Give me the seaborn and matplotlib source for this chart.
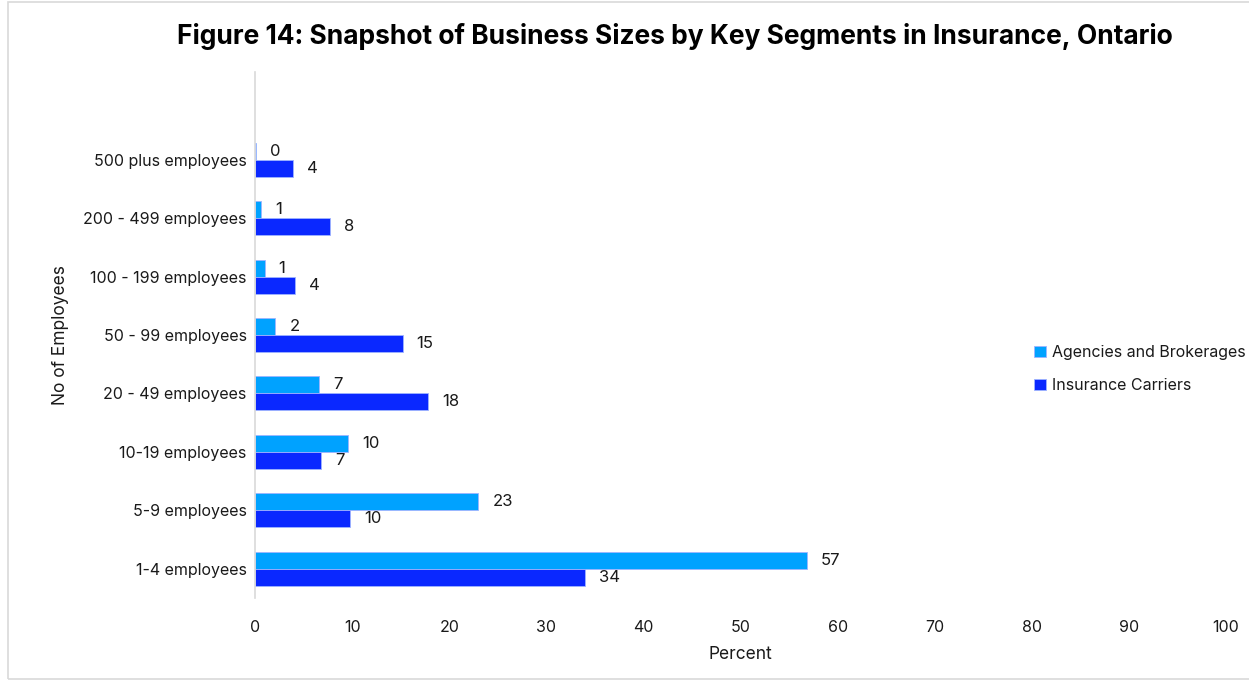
import matplotlib
matplotlib.use("Agg")
import matplotlib.pyplot as plt
from matplotlib.patches import Rectangle
import seaborn as sns
import pandas as pd

# datos (largo de barra) y etiquetas redondeadas
categorias = ["500 plus employees", "200 - 499 employees", "100 - 199 employees",
              "50 - 99 employees", "20 - 49 employees", "10-19 employees",
              "5-9 employees", "1-4 employees"]
agencias = [0.1, 0.6, 1.0, 2.1, 6.6, 9.6, 23.0, 56.8]
aseguradoras = [3.9, 7.7, 4.1, 15.2, 17.8, 6.8, 9.8, 34.0]
series = ["Agencies and Brokerages", "Insurance Carriers"]
colores = ["#00A2FF", "#0A28FF"]
xticks = list(range(0, 101, 10))

df = pd.DataFrame({
    "Categoria": categorias * 2,
    "Serie": [series[0]] * len(categorias) + [series[1]] * len(categorias),
    "Valor": agencias + aseguradoras,
})

sns.set_style("white")
plt.rcParams['font.family'] = ['Inter', 'DejaVu Sans']

fig = plt.figure(figsize=(12.49, 6.81), dpi=100)
ax = fig.add_axes([0.2042, 1 - 598 / 681, 0.7774, (598 - 72) / 681])

sns.barplot(data=df, x="Valor", y="Categoria", hue="Serie", order=categorias,
            hue_order=series, palette=colores, orient="h", width=0.58,
            saturation=1, linewidth=0.6, edgecolor="#9fb4ff", ax=ax)

for cont, vals in zip(ax.containers, [agencias, aseguradoras]):
    ax.bar_label(cont, labels=[f"{round(v):d}" for v in vals], padding=10,
                 fontsize=12, color="#1a1a1a")

ax.set_xlim(0, 100)
ax.set_ylim(len(categorias) - 0.5, -1.5)
ax.set_xticks(xticks)
ax.tick_params(axis="both", length=0, labelsize=11.5, colors="#1a1a1a")
ax.tick_params(axis="x", pad=16)
ax.tick_params(axis="y", pad=6)
for s in ["top", "right", "bottom"]:
    ax.spines[s].set_visible(False)
ax.spines["left"].set_color("#D9D9D9")
ax.spines["left"].set_linewidth(1.2)

ax.set_xlabel("Percent", fontsize=12.5, color="#1a1a1a", labelpad=8)
ax.set_ylabel("No of Employees", fontsize=12.5, color="#1a1a1a", labelpad=10)

leg = ax.legend(loc="center left", bbox_to_anchor=(1020 / 1249, 1 - 369 / 681),
                bbox_transform=fig.transFigure, frameon=False, fontsize=11.5,
                handlelength=0.7, handleheight=0.7, handletextpad=0.4,
                labelspacing=1.15)
for t in leg.get_texts():
    t.set_color("#1a1a1a")

fig.text(0.54, 1 - 36 / 681, "Figure 14: Snapshot of Business Sizes by Key Segments in Insurance, Ontario",
         ha="center", va="center", fontsize=19, fontweight="bold", color="#000000")

fig.patches.append(Rectangle((8 / 1249, 2 / 681), 1.1, 1 - 4 / 681, transform=fig.transFigure,
                             fill=False, edgecolor="#D9D9D9", linewidth=1.2))

fig.savefig("out.png", dpi=100)
